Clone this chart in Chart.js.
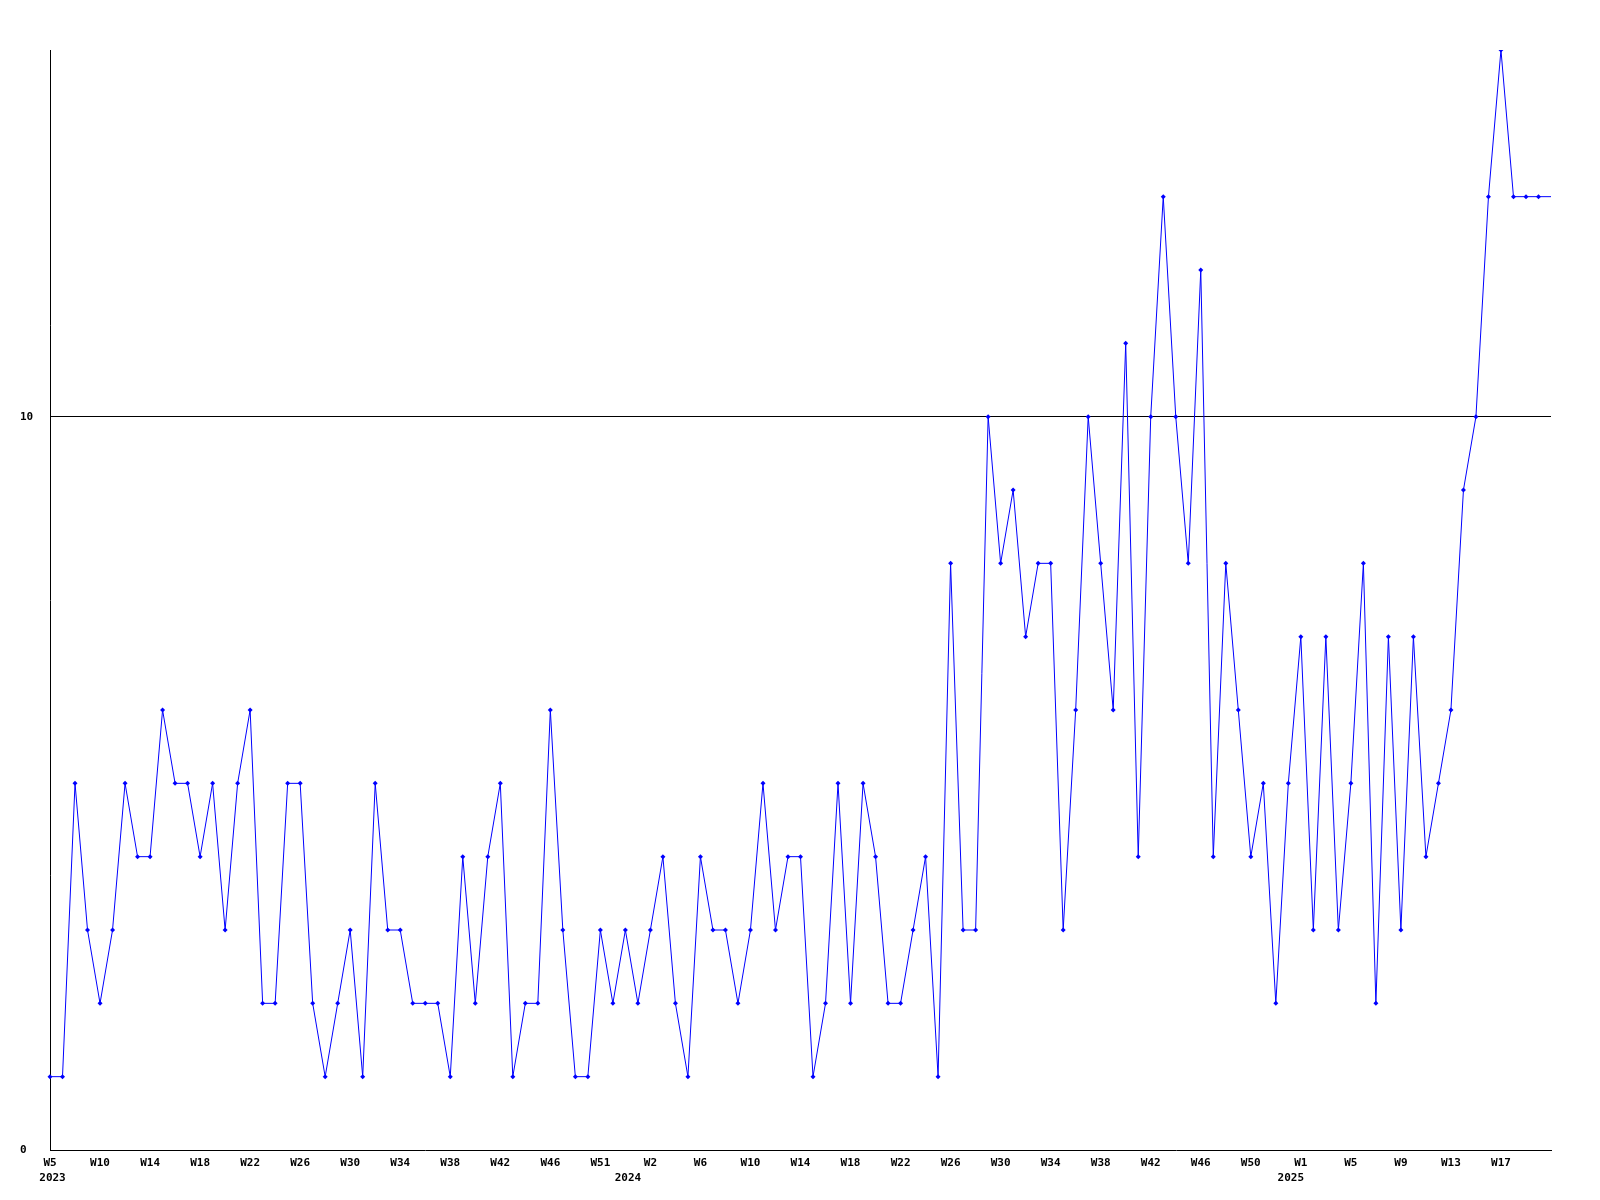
<!DOCTYPE html>
<html>
<head>
<meta charset="utf-8">
<script src="https://cdn.jsdelivr.net/npm/chart.js@4/dist/chart.umd.min.js"></script>
<style>
  html, body { margin: 0; padding: 0; background: #fff; }
  #wrap { width: 1600px; height: 1200px; }
</style>
</head>
<body>
<div id="wrap"><canvas id="weekly" width="1600" height="1200"></canvas></div>
<script>
// weekly counts, 2023 W5 .. 2025 W21
const counts = [
  1, 1, 5, 3, 2, 3, 5, 4, 4, 6,
  5, 5, 4, 5, 3, 5, 6, 2, 2, 5,
  5, 2, 1, 2, 3, 1, 5, 3, 3, 2,
  2, 2, 1, 4, 2, 4, 5, 1, 2, 2,
  6, 3, 1, 1, 3, 2, 3, 2, 3, 4,
  2, 1, 4, 3, 3, 2, 3, 5, 3, 4,
  4, 1, 2, 5, 2, 5, 4, 2, 2, 3,
  4, 1, 8, 3, 3, 10, 8, 9, 7, 8,
  8, 3, 6, 10, 8, 6, 11, 4, 10, 13,
  10, 8, 12, 4, 8, 6, 4, 5, 2, 5,
  7, 3, 7, 3, 5, 8, 2, 7, 3, 7,
  4, 5, 6, 9, 10, 13, 15, 13, 13, 13,
  13
];

// one label every 4 points
const weekTicks = [
  'W5', 'W10', 'W14', 'W18', 'W22', 'W26', 'W30', 'W34', 'W38', 'W42', 'W46', 'W51',
  'W2', 'W6', 'W10', 'W14', 'W18', 'W22', 'W26', 'W30', 'W34', 'W38', 'W42', 'W46', 'W50',
  'W1', 'W5', 'W9', 'W13', 'W17'
];
const years = ['2023', '2024', '2025'];
const yearAt = [0.2, 46.2, 99.2];   // where the year name sits, in weeks from the start
const yTicks = [0, 10];
const tickEvery = 4;

const labels = counts.map((_, i) => i);
const last = counts.length - 1;
const font = { family: '"DejaVu Sans Mono", monospace', size: 11, weight: 'bold' };

const yearRow = {
  id: 'yearRow',
  afterDraw(chart) {
    const x = chart.scales.x, ctx = chart.ctx;
    ctx.save();
    ctx.font = 'bold 11px "DejaVu Sans Mono", monospace';
    ctx.fillStyle = '#000';
    ctx.textAlign = 'center';
    ctx.textBaseline = 'middle';
    years.forEach((y, i) => ctx.fillText(y, x.getPixelForValue(yearAt[i]), x.top + 28));
    ctx.restore();
  },
};

new Chart(document.getElementById('weekly'), {
  type: 'line',
  data: {
    labels,
    datasets: [{
      data: counts,
      borderColor: '#0000ff',
      backgroundColor: '#0000ff',
      borderWidth: 1,
      tension: 0,
      pointStyle: 'rectRot',
      pointRadius: ctx => ctx.dataIndex === last ? 0 : 2.5,
      pointBorderWidth: 0,
      fill: false,
    }],
  },
  options: {
    responsive: false,
    devicePixelRatio: 1,
    animation: false,
    layout: { padding: { left: 20, top: 50, right: 49, bottom: 0 } },
    plugins: { legend: { display: false }, tooltip: { enabled: false } },
    scales: {
      x: {
        type: 'category',
        offset: false,
        grid: { display: false, drawTicks: false },
        border: { display: true, color: '#000', width: 1 },
        afterFit: s => { s.height = 50; },
        ticks: {
          autoSkip: false, maxRotation: 0, padding: 7, color: '#000', font,
          callback: (v, i) => {
            if (i % tickEvery) return null;
            const k = i / tickEvery;
            return k < weekTicks.length ? weekTicks[k] : null;
          },
        },
      },
      y: {
        min: 0, max: 15,
        afterBuildTicks: s => { s.ticks = yTicks.map(value => ({ value })); },
        afterFit: s => { s.width = 30; },
        grid: {
          drawTicks: false,
          color: c => c.tick && c.tick.value === 10 ? '#000' : 'rgba(0,0,0,0)',
          lineWidth: 1,
        },
        border: { display: true, color: '#000', width: 1 },
        ticks: { color: '#000', font, crossAlign: 'far', padding: 0 },
      },
    },
  },
  plugins: [yearRow],
});
</script>
</body>
</html>
